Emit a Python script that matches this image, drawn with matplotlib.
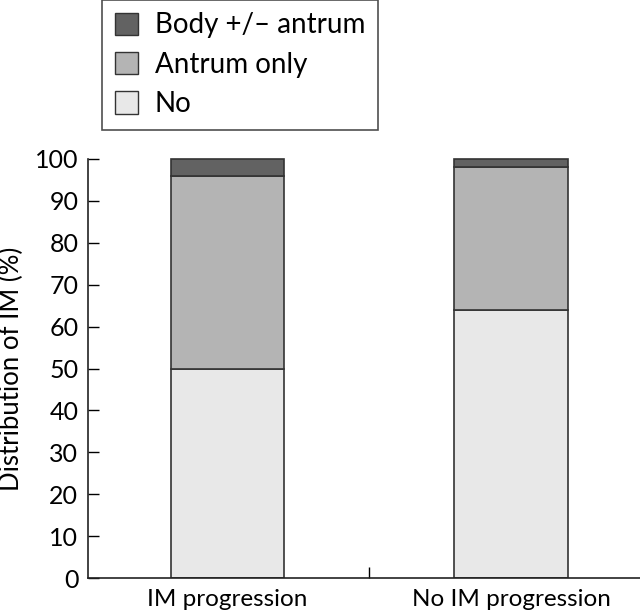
import matplotlib
matplotlib.use('Agg')
import matplotlib.pyplot as plt
import numpy as np
from matplotlib.patches import Patch

groups = ['IM progression', 'No IM progression']
no_im = [50, 64]
antrum_only = [46, 34]
body = [4, 2]
yticks = list(range(0, 101, 10))

plt.rcParams['font.family'] = ['Lato', 'DejaVu Sans']

fig = plt.figure(figsize=(6.4, 6.14), dpi=100)
ax = fig.add_axes([88 / 640, 36 / 614, 1 - 88 / 640, (578 - 159) / 614])

x = np.arange(len(groups))
w = 0.4
edge = '#333333'
c_no, c_ant, c_body = '#e8e8e8', '#b4b4b4', '#626262'
ax.bar(x, no_im, w, color=c_no, edgecolor=edge, linewidth=1.2)
ax.bar(x, antrum_only, w, bottom=no_im, color=c_ant, edgecolor=edge, linewidth=1.2)
ax.bar(x, body, w, bottom=np.add(no_im, antrum_only), color=c_body,
       edgecolor=edge, linewidth=1.2, clip_on=False)

ax.set_xlim(-0.492, 1.455)
ax.set_ylim(0, 100)
ax.set_yticks(yticks)
ax.set_xticks(x)
ax.set_xticklabels(groups, fontsize=17.5)
ax.tick_params(axis='x', length=0, pad=8)
ax.tick_params(axis='y', labelsize=18, length=8, width=1, direction='in', pad=7)
ax.set_xticks([0.5], minor=True)
ax.tick_params(axis='x', which='minor', length=8, width=1, direction='in')
for s in ['top', 'right']:
    ax.spines[s].set_visible(False)
for s in ['left', 'bottom']:
    ax.spines[s].set_linewidth(1.2)
    ax.spines[s].set_color('#222222')
ax.set_ylabel('Distribution of IM (%)', fontsize=18.5, labelpad=8)

handles = [Patch(facecolor=c_body, edgecolor=edge, label='Body +/\u2013 antrum'),
           Patch(facecolor=c_ant, edgecolor=edge, label='Antrum only'),
           Patch(facecolor=c_no, edgecolor=edge, label='No')]
leg = fig.legend(handles=handles, loc='upper left', bbox_to_anchor=(102 / 640, 1.0),
                 fontsize=20, frameon=True, fancybox=False, edgecolor='#222222',
                 handlelength=0.85, handleheight=0.85, handletextpad=0.6,
                 borderpad=0.45, labelspacing=0.48, borderaxespad=0)
leg.get_frame().set_linewidth(1.2)

fig.savefig('out.png', dpi=100)
